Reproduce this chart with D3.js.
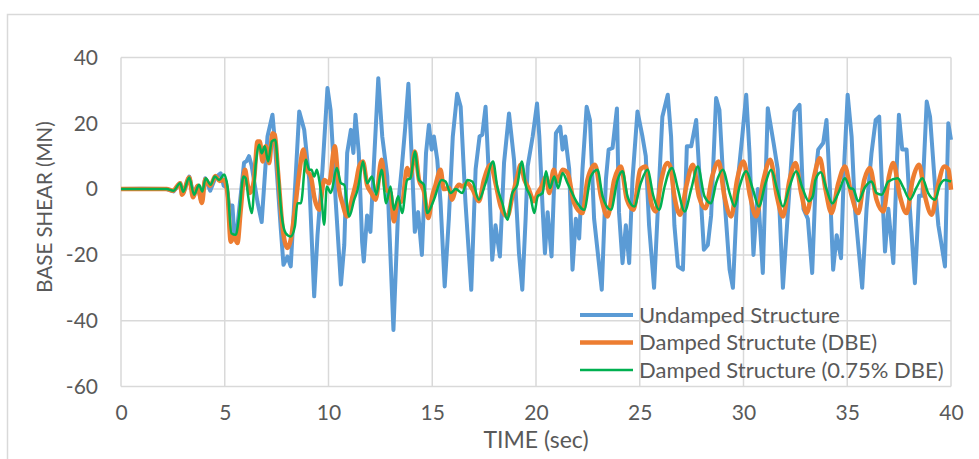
<!DOCTYPE html>
<html>
<head>
<meta charset="utf-8">
<script src="https://cdn.jsdelivr.net/npm/d3@7"></script>
<style>
  body { margin: 0; background: #fff; }
  text { font-family: Lato, "Open Sans", sans-serif; fill: #595959; }
</style>
</head>
<body>
<svg id="chart" width="979" height="459"></svg>
<script>
// time (sec), base shear (MN)
const undamped = [
  [0, 0], [1, 0.1], [2.2, 0], [2.53, -0.7], [2.85, 1.8], [3.0, -1.2], [3.29, 3.8], [3.5, -1.7],
  [3.69, 0.8], [3.87, -3.7], [4.06, 3.3], [4.3, -0.5], [4.55, 3.5], [4.8, 4.8], [4.95, 1.0],
  [5.1, 0.5], [5.2, -5], [5.37, -5], [5.45, -13], [5.6, -12], [5.75, -3], [5.93, 8], [6.05, 8.5],
  [6.17, 10], [6.3, 7], [6.58, -4], [6.78, -10], [7.06, 16], [7.3, 22.6], [7.38, 17], [7.7, -12],
  [7.83, -23], [8.02, -20.5], [8.18, -23.5], [8.59, 23.6], [8.83, 18], [9.07, 3], [9.31, -32.6],
  [9.47, -14], [9.71, 6], [9.95, 30.7], [10.1, 24], [10.35, -4], [10.6, -29], [10.76, -17],
  [10.9, 11], [11.08, 18], [11.2, 11], [11.3, 22.6], [11.46, 11], [11.62, -16], [11.7, -22],
  [11.86, -8], [12.02, -13], [12.19, 8], [12.4, 33.7], [12.59, 16], [12.83, 4], [13.13, -42.8],
  [13.37, -4], [13.53, 6.4], [13.7, 19], [13.85, 32], [14.0, 11], [14.16, -13], [14.32, -7],
  [14.5, -20], [14.7, 11], [14.84, 19.5], [14.97, 12], [15.08, 16], [15.24, 9], [15.4, -4],
  [15.6, -29.6], [15.8, -9], [15.99, 16], [16.2, 29], [16.37, 25], [16.6, -4], [16.88, -30.6],
  [17.09, 6], [17.28, 16], [17.41, 16.5], [17.57, 25], [17.73, 4], [17.89, -21.5], [18.05, -11],
  [18.26, -20.5], [18.46, 8], [18.7, 23], [18.94, 9], [19.18, -19.5], [19.34, -30.6], [19.5, -9],
  [19.6, 7], [19.84, 16], [20.05, 26], [20.16, 16], [20.32, -6], [20.43, -19.5], [20.56, -7],
  [20.75, -20.5], [20.96, 17], [21.17, 19], [21.28, 12], [21.41, 16], [21.6, 6], [21.76, -24.5],
  [21.92, -9], [22.08, -15], [22.24, 6], [22.44, 25], [22.6, 21], [22.8, -9], [23.17, -30.6],
  [23.37, 3], [23.5, 12], [23.69, 12.5], [23.9, 24.5], [24.0, -7], [24.17, -22.5], [24.33, -11],
  [24.49, -22.5], [24.65, 3], [24.89, 23.6], [25.13, 16], [25.29, 10], [25.45, -11], [25.69, -30],
  [25.85, -9], [26.09, 22], [26.35, 28.7], [26.51, 16], [26.67, -11], [26.84, -23.5], [27.08, -24.5],
  [27.27, 13], [27.48, 13], [27.72, 21], [27.88, 4], [28.09, -18.4], [28.28, -17], [28.44, -8],
  [28.68, 27.7], [28.84, 24], [29.04, 1], [29.33, -24.5], [29.49, -30], [29.73, 3], [29.94, 16],
  [30.13, 28.7], [30.29, 11], [30.48, -20], [30.69, 0], [30.93, -25.5], [31.17, 24.6], [31.45, 14],
  [31.65, 6], [31.9, -30], [32.14, -7], [32.46, 23.6], [32.7, 25.6], [32.89, -6], [33.1, -9],
  [33.31, -25.5], [33.5, 6], [33.6, 12], [33.84, 14], [34.0, 21], [34.16, 1], [34.32, -24.5],
  [34.49, -14], [34.7, -21], [34.84, 6], [35.02, 28.7], [35.21, 16], [35.37, -6], [35.72, -30],
  [35.93, -6], [36.17, 11], [36.37, 21], [36.54, 22], [36.66, 3], [36.82, -19], [36.98, -6],
  [37.22, -22.5], [37.38, 6], [37.49, 22.6], [37.65, 12], [37.86, 12], [38.02, -6], [38.26, -28.6],
  [38.46, -2], [38.62, -2], [38.83, 26.6], [38.99, 22], [39.23, 1], [39.39, -11], [39.52, -16],
  [39.71, -23.5], [39.87, 20], [40, 15]
];

const dampedDBE = [
  [0, 0], [2.2, 0], [2.5, -0.5], [2.85, 1.8], [2.94, -1.7], [3.29, 3.5], [3.47, -2.5], [3.69, 1],
  [3.9, -4.2], [4.06, 3], [4.3, 1], [4.55, 4], [4.75, 2.5], [4.97, 2.8], [5.13, -1.2], [5.29, -16],
  [5.45, -14.4], [5.61, -16.4], [5.77, -6.3], [5.98, 5.9], [6.09, 1.8], [6.22, -1.2], [6.41, 2.8],
  [6.58, 14.5], [6.69, 14.5], [6.82, 8.4], [6.98, 13], [7.14, 7.9], [7.3, 17], [7.41, 16.5],
  [7.57, 4.9], [7.78, -11.3], [8.02, -17.9], [8.18, -15.4], [8.38, -6.3], [8.59, 4.9], [8.79, 12],
  [8.95, 5.9], [9.15, 3.8], [9.34, -3.2], [9.55, -6.3], [9.79, 2.8], [10.03, 1.8], [10.3, 13],
  [10.51, -0.2], [10.67, -4.3], [10.9, -8.3], [11.16, -2.2], [11.32, 1.8], [11.48, 6.9], [11.66, 8.4],
  [11.86, 1.3], [12.07, -1.2], [12.27, -3.2], [12.56, 8.9], [12.75, 0], [12.99, -1.2], [13.15, -9.8],
  [13.31, -4.3], [13.55, -3.7], [13.79, 6.4], [13.95, 3.8], [14.16, 11.4], [14.36, 2.8], [14.6, -0.7],
  [14.81, -8.8], [15.0, -2.2], [15.16, 1.3], [15.4, 5.9], [15.56, 0], [15.8, 0.3], [15.96, -3.2],
  [16.13, 0], [16.29, 1.3], [16.45, 0.8], [16.69, 1.8], [16.93, 0], [17.25, -3.7], [17.49, 2.8],
  [17.81, 7.4], [18.05, 1.8], [18.3, -5.3], [18.62, -8.3], [18.86, -2.2], [19.1, 3.8], [19.26, 7.4],
  [19.44, 2.8], [19.6, 0.8], [19.92, -3.7], [20.08, -1.2], [20.27, 0.8], [20.48, 3.8], [20.64, -1.2],
  [20.85, 5.9], [21.04, 2.3], [21.28, 5.9], [21.52, 4.9], [21.84, -4.3], [22.24, -7.3], [22.48, 2.8],
  [22.84, 7.4], [23.13, -2.2], [23.45, -8.3], [23.77, 2.8], [24.09, 6.9], [24.38, -3.2], [24.7, -6.3],
  [25.02, 5.9], [25.29, 6.9], [25.56, -4.3], [25.77, -6.8], [26.04, 2.8], [26.33, 7.9], [26.47, 6.9],
  [26.67, -2.2], [26.95, -7.8], [27.24, 0.8], [27.56, 7.4], [27.85, -2.2], [28.17, -5.8], [28.49, 3.8],
  [28.8, 8.4], [29.08, -2.2], [29.41, -8.3], [29.69, 2.8], [30.0, 8.4], [30.32, -2.2], [30.61, -8.3],
  [30.96, 2.8], [31.29, 8.9], [31.61, -2.2], [31.9, -8.3], [32.22, 2.8], [32.51, 7.9], [32.78, -1.2],
  [33.05, -7.3], [33.34, 1.8], [33.44, 4.9], [33.68, 9.4], [33.95, 0], [34.24, -7.3], [34.57, 1.8],
  [34.89, 6.9], [35.18, -1.2], [35.53, -7.3], [35.82, 2.8], [36.09, 6.4], [36.41, -3.2], [36.74, -6.8],
  [37.01, 3.8], [37.22, 7.9], [37.54, -2.2], [37.86, -7.3], [38.15, 2.8], [38.46, 7.4], [38.75, -2.2],
  [39.07, -7.8], [39.36, 0.8], [39.68, 6.9], [39.87, 6], [40, -0.2]
];

const damped075 = [
  [0, 0], [2.2, 0], [2.53, -0.5], [2.85, 1.8], [3.0, -0.8], [3.29, 3.5], [3.52, -1.7], [3.76, 1.3],
  [3.92, -0.7], [4.08, 3.3], [4.32, 1.3], [4.52, 3.8], [4.73, 2.8], [4.97, 4.4], [5.13, 0.8],
  [5.32, -13.4], [5.53, -13.9], [5.69, -8.3], [5.9, 3.8], [6.01, 3.3], [6.13, -2.2], [6.3, -7.3],
  [6.5, 7.9], [6.66, 13.5], [6.78, 10.9], [6.93, 13], [7.09, 8.4], [7.27, 14.5], [7.43, 15],
  [7.57, 5.9], [7.73, -7.3], [7.94, -13.4], [8.18, -14.4], [8.38, -11.3], [8.5, -4.3], [8.67, -4.3],
  [8.91, 8.9], [9.07, 5.9], [9.18, 5.9], [9.31, 3.8], [9.44, 5.9], [9.55, 2.8], [9.66, -2.2],
  [9.79, -10.8], [9.92, 0.8], [10.11, -1.2], [10.4, 6.4], [10.6, 1.8], [10.76, 1.3], [11.0, -8.3],
  [11.24, -3.2], [11.4, -0.2], [11.48, 2.3], [11.66, 8.4], [11.86, 1.8], [12.1, 3.8], [12.3, -1.7],
  [12.56, 5.9], [12.78, -4.3], [12.99, 0.8], [13.15, -6.3], [13.36, -2.2], [13.55, -7.3], [13.79, 2.8],
  [13.95, 3.3], [14.16, 11.4], [14.36, 2.8], [14.6, 1.3], [14.76, -7.3], [15.08, -3.2], [15.45, 2.8],
  [15.64, 2.3], [15.88, -1.2], [16.13, 0], [16.45, -1.2], [16.69, 2.8], [16.93, 2.3], [17.25, -3.2],
  [17.57, 1.8], [17.93, 8.4], [18.13, 0.8], [18.38, -4.3], [18.62, -9.3], [18.86, -1.2], [19.1, 1.3],
  [19.31, 8.4], [19.52, 0.8], [19.73, -2.2], [19.92, -7.3], [20.08, -2.2], [20.32, -1.2], [20.48, 5.4],
  [20.67, 0.3], [20.88, 3.8], [21.07, 0.3], [21.28, 4.9], [21.52, 1.8], [22.0, -4.3], [22.32, -6.3],
  [22.64, 3.8], [22.96, 5.9], [23.21, -2.2], [23.61, -6.3], [23.93, 2.8], [24.17, 5.4], [24.41, -2.2],
  [24.73, -5.3], [25.05, 1.8], [25.37, 5.9], [25.66, -2.2], [25.93, -6.3], [26.2, 0.8], [26.41, 5.4],
  [26.56, 6.4], [26.84, 0], [27.16, -6.8], [27.48, 0], [27.8, 6.9], [28.12, -2.2], [28.44, -4.3],
  [28.68, 1.8], [29.0, 5.9], [29.33, -1.2], [29.57, -5.3], [29.81, 0.8], [30.13, 5.4], [30.45, 0],
  [30.74, -5.3], [31.06, 1.8], [31.33, 5.9], [31.62, 0], [31.9, -5.3], [32.22, 0.8], [32.54, 5.4],
  [32.86, 0], [33.15, -3.7], [33.34, -2.2], [33.47, 2.8], [33.73, 5.1], [34.0, 0], [34.28, -4.3],
  [34.57, -1.2], [34.89, 3.3], [35.13, 0.3], [35.29, 0], [35.53, -3.7], [35.85, 0.5], [36.17, 2.3],
  [36.41, -1.2], [36.66, -1.7], [36.98, 2.3], [37.43, 3.3], [37.7, 0.5], [38.02, -3.2], [38.34, 0.5],
  [38.62, 3.3], [38.9, -1.2], [39.23, -3.2], [39.47, 1.3], [39.71, 2.8], [40, 2.3]
];

const xTicks = [0, 5, 10, 15, 20, 25, 30, 35, 40];
const yTicks = [-60, -40, -20, 0, 20, 40];
const seriesNames = ['Undamped Structure', 'Damped Structute (DBE)', 'Damped Structure (0.75% DBE)'];

const svg = d3.select('#chart');
const margin = { top: 57.5, right: 28, bottom: 72.5, left: 121 };
const width = 979 - margin.left - margin.right;
const height = 459 - margin.top - margin.bottom;

// chart area border (only left/top edges are in frame)
svg.append('rect')
  .attr('x', 7.5).attr('y', 14.5)
  .attr('width', 1000).attr('height', 500)
  .attr('fill', 'none').attr('stroke', '#d9d9d9').attr('stroke-width', 1.5);

const g = svg.append('g')
  .attr('transform', `translate(${margin.left},${margin.top})`);

const x = d3.scaleLinear().domain([0, 40]).range([0, width]);
const y = d3.scaleLinear().domain([-60, 40]).range([height, 0]);

// gridlines
g.append('g').selectAll('line').data(yTicks).enter().append('line')
  .attr('x1', 0).attr('x2', width)
  .attr('y1', (d) => y(d)).attr('y2', (d) => y(d))
  .attr('stroke', '#d9d9d9').attr('stroke-width', 1.5);
g.append('g').selectAll('line').data(xTicks).enter().append('line')
  .attr('x1', (d) => x(d)).attr('x2', (d) => x(d))
  .attr('y1', 0).attr('y2', height)
  .attr('stroke', '#d9d9d9').attr('stroke-width', 1.5);

// axes (labels only), plain hyphen for negatives like the original
const yAxis = g.append('g')
  .call(d3.axisLeft(y).tickValues(yTicks).tickFormat((d) => String(d)).tickSize(0).tickPadding(23));
const xAxis = g.append('g')
  .attr('transform', `translate(0,${height})`)
  .call(d3.axisBottom(x).tickValues(xTicks).tickFormat((d) => String(d)).tickSize(0).tickPadding(19));
[yAxis, xAxis].forEach((a) => {
  a.select('.domain').remove();
  a.selectAll('text').attr('font-size', 21).attr('font-family', null);
});

// series
const lineLinear = d3.line().x((d) => x(d[0])).y((d) => y(d[1]));
const lineSmooth = d3.line().x((d) => x(d[0])).y((d) => y(d[1])).curve(d3.curveMonotoneX);

g.append('path').datum(undamped)
  .attr('d', lineLinear)
  .attr('fill', 'none').attr('stroke', '#5b9bd5').attr('stroke-width', 4)
  .attr('stroke-linejoin', 'round');
g.append('path').datum(dampedDBE)
  .attr('d', lineSmooth)
  .attr('fill', 'none').attr('stroke', '#ed7d31').attr('stroke-width', 4.5)
  .attr('stroke-linejoin', 'round');
g.append('path').datum(damped075)
  .attr('d', lineSmooth)
  .attr('fill', 'none').attr('stroke', '#00b050').attr('stroke-width', 2.5)
  .attr('stroke-linejoin', 'round');

// axis titles
svg.append('text')
  .attr('x', margin.left + width / 2).attr('y', 448)
  .attr('text-anchor', 'middle').attr('font-size', 23)
  .text('TIME (sec)');
svg.append('text')
  .attr('transform', 'translate(52,207) rotate(-90)')
  .attr('text-anchor', 'middle').attr('font-size', 20.5)
  .text('BASE SHEAR (MN)');

// legend
const legendColors = ['#5b9bd5', '#ed7d31', '#00b050'];
const legendWidths = [4, 4.5, 2.5];
const legend = svg.append('g').attr('transform', 'translate(580,315)');
seriesNames.forEach((name, i) => {
  const row = legend.append('g').attr('transform', `translate(0,${i * 27.5})`);
  row.append('line')
    .attr('x1', 0).attr('x2', 53)
    .attr('stroke', legendColors[i]).attr('stroke-width', legendWidths[i]);
  row.append('text')
    .attr('x', 59).attr('dy', '0.35em').attr('font-size', 22)
    .text(name);
});
</script>
</body>
</html>
